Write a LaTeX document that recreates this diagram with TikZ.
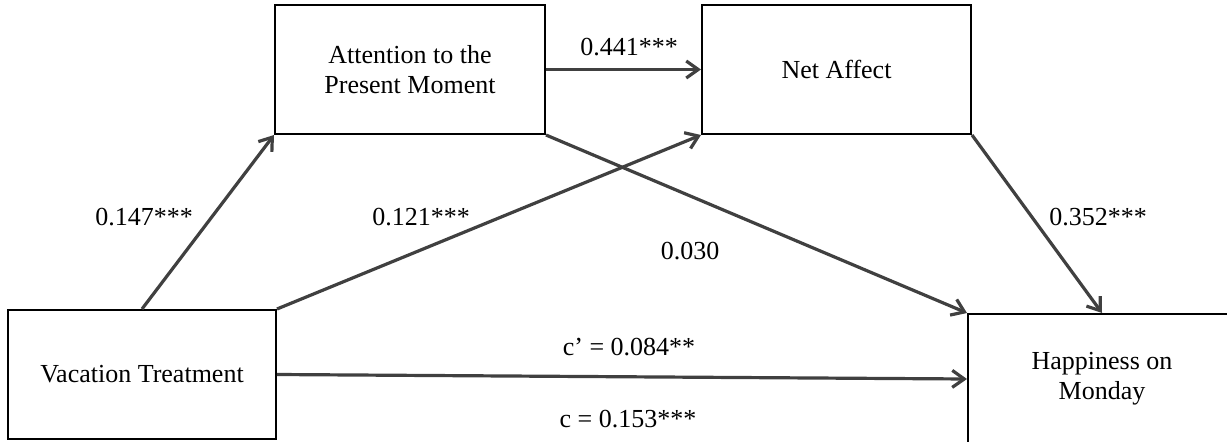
\documentclass[tikz,border=0pt]{standalone}
\usepackage{fontspec}
\setmainfont{Liberation Serif}
\usetikzlibrary{arrows.meta}
\definecolor{arrowgray}{HTML}{404040}
\tikzset{
  box/.style={draw=black, line width=2pt, minimum width=268pt, minimum height=129pt,
    inner sep=0pt, align=center, font=\fontsize{26}{30}\selectfont},
  path/.style={draw=arrowgray, line width=3.2pt,
    -{Straight Barb[length=12pt,width=17pt]}},
  lab/.style={anchor=base, inner sep=0pt, font=\fontsize{26}{30}\selectfont}
}
\begin{document}
\begin{tikzpicture}[x=1pt,y=-1pt]
\useasboundingbox (0,0) rectangle (1227,442);
\begin{scope}
\clip (0,0) rectangle (1227,442);
\node[box] (vac) at (142,374.5) {Vacation Treatment};
\node[box, minimum width=270pt] (att) at (410,69.5) {Attention to the\\Present Moment};
\node[box, minimum width=269pt] (net) at (836.5,69.5) {Net Affect};
\node[box, minimum height=130pt] (hap) at (1102,379) {Happiness on\\Monday};
\end{scope}
\draw[path] (vac.north) -- (att.south west);
\draw[path] (vac.north east) -- (net.south west);
\draw[path] (att.south east) -- (hap.north west);
\draw[path] (net.south east) -- (hap.north);
\draw[path] (att.east) -- (net.west);
\draw[path] (vac.east) -- (hap.west);
\node[lab] (l441) at (629,55) {0.441***};
\node[lab] (l147) at (144,225) {0.147***};
\node[lab] (l121) at (421,225) {0.121***};
\node[lab] (l030) at (690,259) {0.030};
\node[lab] (l352) at (1098,225) {0.352***};
\node[lab] (lcp) at (629,355) {c’ = 0.084**};
\node[lab] (lc) at (628,427) {c = 0.153***};
\end{tikzpicture}
\end{document}
